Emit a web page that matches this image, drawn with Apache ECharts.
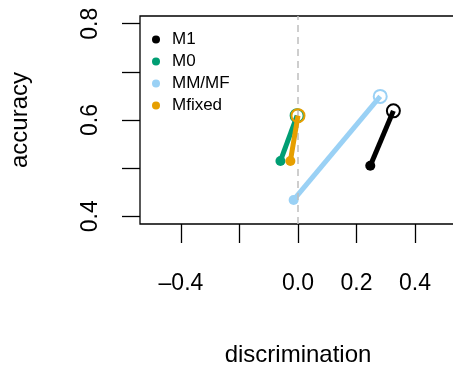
<!DOCTYPE html>
<html>
<head>
<meta charset="utf-8">
<script src="https://cdn.jsdelivr.net/npm/echarts@6/dist/echarts.min.js"></script>
<style>
    html, body { margin: 0; padding: 0; background: #fff; }
    #chart { width: 453px; height: 368px; }
</style>
</head>
<body>
<div id="chart"></div>
<script>
    /* ------ data ------ */
    var models = ['M1', 'M0', 'MM/MF', 'Mfixed'];
    var discFrom = [0.247, -0.060, -0.015, -0.026];
    var accFrom = [0.505, 0.515, 0.434, 0.515];
    var discTo = [0.326, -0.003, 0.281, 0.000];
    var accTo = [0.619, 0.609, 0.649, 0.609];

    var xTicks = [-0.4, -0.2, 0, 0.2, 0.4];
    var xLabels = [-0.4, 0, 0.2, 0.4];
    var yTicks = [0.4, 0.5, 0.6, 0.7, 0.8];
    var yLabels = [0.4, 0.6, 0.8];

    var palette = ['#000000', '#009E73', '#9AD1F5', '#E69F00'];
    var font = 'Liberation Sans';

    /* ------ chart ------ */
    var chart = echarts.init(document.getElementById('chart'));

    function fmt(v) {
        var s = Math.abs(v).toFixed(1);
        return v < -1e-9 ? '\u2013' + s : s;
    }

    var series = [];

    // dashed reference line at zero
    series.push({
        type: 'line',
        data: [],
        z: 1,
        silent: true,
        markLine: {
            silent: true,
            symbol: 'none',
            label: { show: false },
            lineStyle: { color: '#bebebe', type: [7, 5], width: 1.5 },
            data: [{ xAxis: 0 }]
        }
    });

    for (var i = 0; i < models.length; i++) {
        series.push({
            name: models[i],
            type: 'line',
            z: 2 + i,
            color: palette[i],
            lineStyle: { width: 5, color: palette[i] },
            itemStyle: { color: palette[i] },
            data: [
                {
                    value: [discFrom[i], accFrom[i]],
                    symbol: 'circle',
                    symbolSize: 10,
                    itemStyle: { color: palette[i] }
                },
                {
                    value: [discTo[i], accTo[i]],
                    symbol: 'circle',
                    symbolSize: 13,
                    itemStyle: { color: 'rgba(0,0,0,0)', borderColor: palette[i], borderWidth: 2 }
                }
            ]
        });
    }

    var option = {
        animation: false,
        backgroundColor: '#fff',
        textStyle: { fontFamily: font },
        grid: {
            left: 140,
            top: 16,
            width: 316,
            height: 208,
            show: true,
            borderColor: '#000',
            borderWidth: 1.3,
            containLabel: false,
            outerBoundsMode: 'none'
        },
        legend: {
            data: models,
            orient: 'vertical',
            left: 152,
            top: 31,
            padding: 0,
            itemGap: 5,
            itemWidth: 8,
            itemHeight: 8,
            icon: 'circle',
            textStyle: { fontFamily: font, fontSize: 17, color: '#000', padding: [0, 0, 0, 7] }
        },
        xAxis: {
            type: 'value',
            min: -0.54,
            max: 0.54,
            name: 'discrimination',
            nameLocation: 'middle',
            nameGap: 119,
            nameTextStyle: { fontFamily: font, fontSize: 24, color: '#000' },
            axisLine: { show: false, onZero: false },
            splitLine: { show: false },
            axisTick: {
                show: true,
                length: 19,
                customValues: xTicks,
                lineStyle: { color: '#000', width: 1.3 }
            },
            axisLabel: {
                customValues: xLabels,
                margin: 48,
                fontFamily: font,
                fontSize: 23,
                color: '#000',
                formatter: fmt
            }
        },
        yAxis: {
            type: 'value',
            min: 0.384,
            max: 0.816,
            name: 'accuracy',
            nameLocation: 'middle',
            nameRotate: 90,
            nameGap: 108,
            nameTextStyle: { fontFamily: font, fontSize: 24, color: '#000' },
            axisLine: { show: false, onZero: false },
            splitLine: { show: false },
            axisTick: {
                show: true,
                length: 18,
                customValues: yTicks,
                lineStyle: { color: '#000', width: 1.3 }
            },
            axisLabel: {
                customValues: yLabels,
                rotate: 90,
                margin: 38,
                fontFamily: font,
                fontSize: 23,
                color: '#000',
                formatter: fmt
            }
        },
        series: series
    };
    chart.setOption(option);
</script>
</body>
</html>
